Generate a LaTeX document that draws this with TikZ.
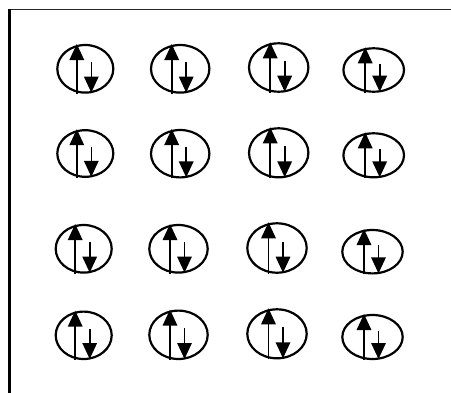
\documentclass[tikz,border=0pt]{standalone}
\usetikzlibrary{arrows.meta,shapes.geometric}
\begin{document}
\begin{tikzpicture}[x=1pt,y=-1pt,
  orbital/.style={draw, ellipse, line width=2.2pt, inner sep=0pt, outer sep=0pt},
  spinarrow/.style={line width=1.6pt, -{Triangle[length=16pt,width=14.5pt]}}]
\useasboundingbox (0,0) rectangle (451,392);
\draw[line width=1.5pt, black!85] (8,9.5) -- (451,9.5);
\draw[line width=2.8pt] (9.8,9) -- (9.8,393);
\foreach \cx/\cy/\rx/\ry/\n in {
  85.3/68.8/28/23.8/a1, 180.2/68.8/29.2/23.8/a2, 278.7/67.5/29.7/24.2/a3, 373.7/70/30.3/21.7/a4,
  85.3/153.5/28/23.3/b1, 180.2/153.7/29.2/23.7/b2, 278.7/152.8/29.7/24.5/b3, 373.7/155.3/30.3/22/b4,
  83.7/248.8/28/23.8/c1, 178.5/248.8/29.2/23.8/c2, 277/248/29.7/24.7/c3, 372.5/251.7/30.2/21.7/c4,
  83.7/335.3/28/23.7/d1, 178.5/334.8/29.2/24.2/d2, 277/333.8/29.7/24.5/d3, 372.5/337/30.2/22/d4}{
  \node[orbital, minimum width=2*\rx pt, minimum height=2*\ry pt] (\n) at (\cx,\cy) {};
  \draw[spinarrow] ([xshift=-8.5pt,yshift=-1pt]\n.south) -- ([xshift=-8.5pt,yshift=1pt]\n.north);
  \draw[spinarrow] ([xshift=6pt,yshift=6.5pt]\n.center) -- ([xshift=6pt]\n.south);
}
\end{tikzpicture}
\end{document}
